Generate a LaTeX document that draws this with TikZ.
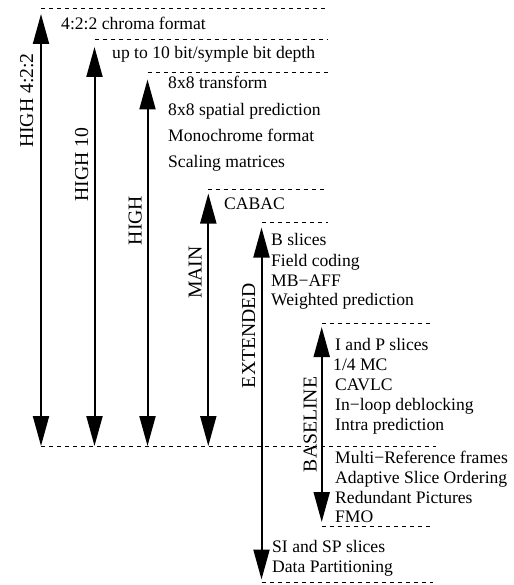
\documentclass[tikz,border=0pt]{standalone}
\usepackage{fontspec}
\setmainfont{Liberation Serif}
\usetikzlibrary{arrows.meta}
\begin{document}
\begin{tikzpicture}[x=1pt,y=-1pt,
  featuretext/.style={anchor=base west,inner sep=0pt,font=\fontsize{17.6}{20}\selectfont},
  proflabel/.style={anchor=base,rotate=90,inner sep=0pt,font=\fontsize{19.7}{22}\selectfont},
  profarrow/.style={line width=2pt,{Triangle[length=30pt,width=16pt]}-{Triangle[length=30pt,width=16pt]}},
  levelline/.style={line width=0.9pt,dash pattern=on 4pt off 4pt}]
\useasboundingbox (0,0) rectangle (513,585);
% arrow end points
\coordinate (a1t) at (41,14);   \coordinate (a1b) at (41,446);
\coordinate (a2t) at (94.5,47); \coordinate (a2b) at (94.5,446);
\coordinate (a3t) at (147.5,79.5); \coordinate (a3b) at (147.5,446);
\coordinate (a4t) at (208.3,193.5); \coordinate (a4b) at (208.3,446);
\coordinate (a5t) at (261.5,227.5); \coordinate (a5b) at (261.5,579.5);
\coordinate (a6t) at (321.7,327); \coordinate (a6b) at (321.7,522);
% dashed level lines
\coordinate (l1a) at (41,8);     \coordinate (l1b) at (328,8);
\coordinate (l2a) at (94.5,39);  \coordinate (l2b) at (328,39);
\coordinate (l3a) at (147.5,72); \coordinate (l3b) at (328,72);
\coordinate (l4a) at (208.3,189); \coordinate (l4b) at (328,189);
\coordinate (l5a) at (261.5,222); \coordinate (l5b) at (328,222);
\coordinate (l6a) at (321.7,323); \coordinate (l6b) at (433,323);
\coordinate (l7a) at (41,446);   \coordinate (l7b) at (436,446);
\coordinate (l8a) at (321.7,526); \coordinate (l8b) at (433,526);
\coordinate (l9a) at (261.5,582); \coordinate (l9b) at (433,582);
\foreach \i in {1,...,9} \draw[levelline] (l\i a) -- (l\i b);
\foreach \i in {1,...,6} \draw[profarrow] (a\i t) -- (a\i b);
% profile labels
\node[proflabel] (p1) at (33,100.5) {HIGH 4:2:2};
\node[proflabel] (p2) at (88,164.5) {HIGH 10};
\node[proflabel] (p3) at (141.7,220.5) {HIGH};
\node[proflabel] (p4) at (201.7,272.5) {MAIN};
\node[proflabel] (p5) at (255,335.5) {EXTENDED};
\node[proflabel] (p6) at (316.7,424.5) {BASELINE};
% feature texts
\node[featuretext] (t1) at (61,29.5) {4:2:2 chroma format};
\node[featuretext] (t2) at (112,59) {up to 10 bit/symple bit depth};
\node[featuretext] (t3) at (168,89) {8x8 transform};
\node[featuretext] (t4) at (168,116) {8x8 spatial prediction};
\node[featuretext] (t5) at (168,142) {Monochrome format};
\node[featuretext] (t6) at (168,168) {Scaling matrices};
\node[featuretext] (t7) at (224,209) {CABAC};
\node[featuretext] (t8) at (271,245) {B slices};
\node[featuretext] (t9) at (271,266) {Field coding};
\node[featuretext] (t10) at (271,286) {MB−AFF};
\node[featuretext] (t11) at (271,305.5) {Weighted prediction};
\node[featuretext] (t12) at (335,350) {I and P slices};
\node[featuretext] (t13) at (333,370) {1/4 MC};
\node[featuretext] (t14) at (335,390) {CAVLC};
\node[featuretext] (t15) at (335,410.5) {In−loop deblocking};
\node[featuretext] (t16) at (335,430) {Intra prediction};
\node[featuretext] (t17) at (335,463) {Multi−Reference frames};
\node[featuretext] (t18) at (335,483) {Adaptive Slice Ordering};
\node[featuretext] (t19) at (335,503) {Redundant Pictures};
\node[featuretext] (t20) at (335,522.5) {FMO};
\node[featuretext] (t21) at (272,552.5) {SI and SP slices};
\node[featuretext] (t22) at (272,572.5) {Data Partitioning};
\end{tikzpicture}
\end{document}
